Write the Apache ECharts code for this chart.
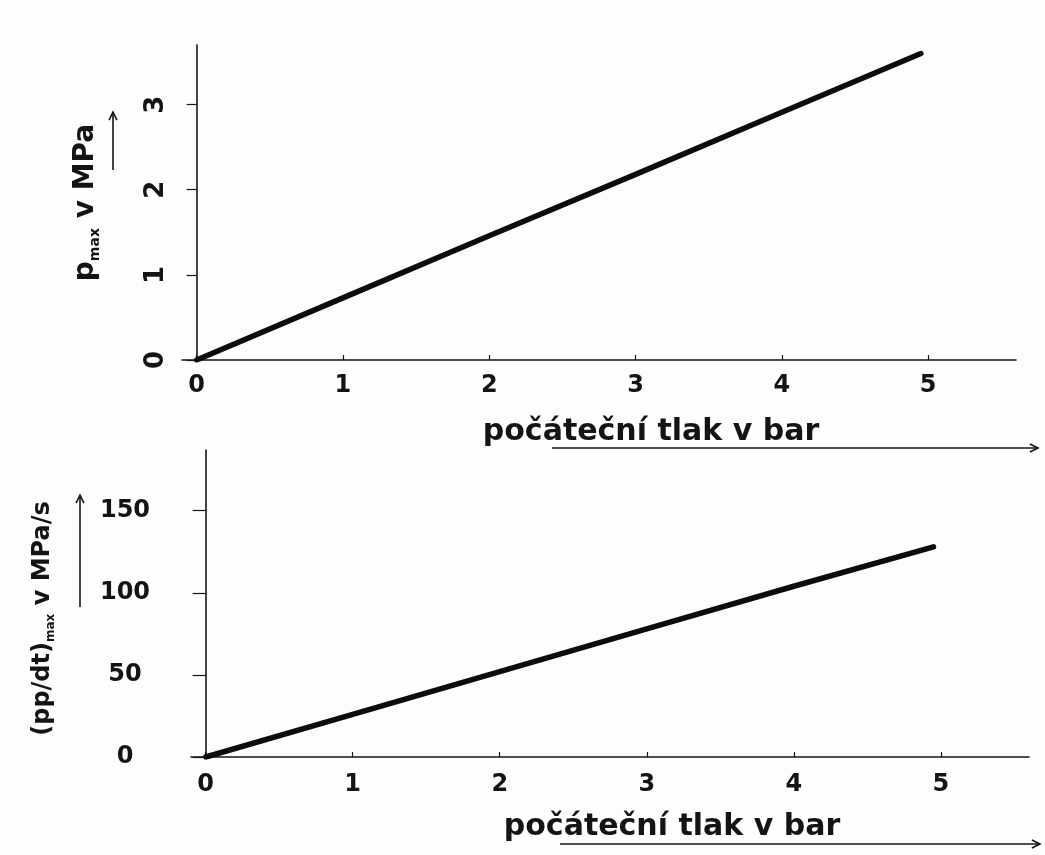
<!DOCTYPE html>
<html>
<head>
<meta charset="utf-8">
<script src="https://cdn.jsdelivr.net/npm/echarts@6/dist/echarts.min.js"></script>
<style>
html,body{margin:0;padding:0;background:#fdfdfc;}
#c{width:1045px;height:855px;}
</style>
</head>
<body>
<div id="c"></div>
<script>
// ---- data ----
const xTickValues = [0, 1, 2, 3, 4, 5];
const pTickValues = [0, 1, 2, 3];
const rTickValues = [0, 50, 100, 150];
const startPressure = [0, 1, 2, 3, 4, 4.95];          // bar
const pMax = [0, 0.73, 1.46, 2.18, 2.91, 3.6];          // MPa
const dpdtMax = [0, 26, 52, 78, 104, 128];              // MPa/s
const xTitle = 'počáteční tlak v bar';

const FONT = 'DejaVu Sans';
const INK = '#141414';

const chart = echarts.init(document.getElementById('c'), null, {renderer: 'canvas'});

function xAxisCfg(i, margin) {
  return {
    type: 'value', gridIndex: i, min: -0.1, max: 5.6,
    axisLine: {onZero: false, lineStyle: {color: INK, width: 1.6}},
    axisTick: {inside: true, length: 5, customValues: xTickValues, lineStyle: {color: INK, width: 1.2}},
    axisLabel: {customValues: xTickValues, margin: margin, fontFamily: FONT, fontWeight: 'bold', fontSize: 24, color: INK},
    splitLine: {show: false}
  };
}

function arrow(x1, y1, x2, y2) {
  const ang = Math.atan2(y2 - y1, x2 - x1);
  const h = 9, w = 0.45;
  return [
    {type: 'line', shape: {x1, y1, x2, y2}, style: {stroke: INK, lineWidth: 1.6}},
    {type: 'polyline', shape: {points: [
      [x2 - h * Math.cos(ang - w), y2 - h * Math.sin(ang - w)],
      [x2, y2],
      [x2 - h * Math.cos(ang + w), y2 - h * Math.sin(ang + w)]
    ]}, style: {stroke: INK, lineWidth: 1.6, fill: null}}
  ];
}

const option = {
  backgroundColor: '#fdfdfc',
  animation: false,
  grid: [
    {left: 182, right: 29, top: 45, bottom: 495},
    {left: 191, right: 16, top: 450, bottom: 98}
  ],
  xAxis: [xAxisCfg(0, 14), xAxisCfg(1, 16)],
  yAxis: [
    {
      type: 'value', gridIndex: 0, min: 0, max: 3.7,
      axisLine: {show: true, onZero: true, lineStyle: {color: INK, width: 1.6}},
      axisTick: {show: true, length: 10, customValues: pTickValues, lineStyle: {color: INK, width: 1.2}},
      axisLabel: {customValues: pTickValues, rotate: 90, align: 'center', verticalAlign: 'middle',
        margin: 26, fontFamily: FONT, fontWeight: 'bold', fontSize: 26, color: INK},
      splitLine: {show: false},
      name: '{p|p}{s|max}{p| v MPa}',
      nameLocation: 'middle', nameRotate: 90, nameGap: 80,
      nameTextStyle: {color: INK, rich: {
        p: {fontFamily: FONT, fontWeight: 'bold', fontSize: 28, color: INK, lineHeight: 32},
        s: {fontFamily: FONT, fontWeight: 'bold', fontSize: 14, color: INK, verticalAlign: 'bottom', lineHeight: 14}
      }}
    },
    {
      type: 'value', gridIndex: 1, min: 0, max: 187,
      axisLine: {show: true, onZero: true, lineStyle: {color: INK, width: 1.6}},
      axisTick: {show: true, length: 13, customValues: rTickValues, lineStyle: {color: INK, width: 1.2}},
      axisLabel: {customValues: rTickValues, align: 'center', margin: 66,
        fontFamily: FONT, fontWeight: 'bold', fontSize: 24, color: INK},
      splitLine: {show: false},
      name: '{p|(pp/dt)}{s|max}{p| v MPa/s}',
      nameLocation: 'middle', nameRotate: 90, nameGap: 134,
      nameTextStyle: {color: INK, padding: [0, 30, 0, 0], rich: {
        p: {fontFamily: FONT, fontWeight: 'bold', fontSize: 24, color: INK, lineHeight: 28},
        s: {fontFamily: FONT, fontWeight: 'bold', fontSize: 12, color: INK, verticalAlign: 'bottom', lineHeight: 12}
      }}
    }
  ],
  series: [
    {
      type: 'line', xAxisIndex: 0, yAxisIndex: 0, symbol: 'none',
      data: startPressure.map((x, i) => [x, pMax[i]]),
      lineStyle: {color: '#0c0c0c', width: 5.5, cap: 'round'}
    },
    {
      type: 'line', xAxisIndex: 1, yAxisIndex: 1, symbol: 'none',
      data: startPressure.map((x, i) => [x, dpdtMax[i]]),
      lineStyle: {color: '#0c0c0c', width: 5.5, cap: 'round'}
    }
  ],
  graphic: [
    {type: 'text', x: 651, y: 432, style: {text: xTitle, align: 'center', verticalAlign: 'middle',
      font: 'bold 30px "DejaVu Sans"', fill: INK}},
    {type: 'text', x: 672, y: 827, style: {text: xTitle, align: 'center', verticalAlign: 'middle',
      font: 'bold 30px "DejaVu Sans"', fill: INK}},
    ...arrow(552, 448, 1038, 448),
    ...arrow(560, 844, 1040, 844),
    ...arrow(113, 170, 113, 112),
    ...arrow(80, 607, 80, 495)
  ]
};
chart.setOption(option);
</script>
</body>
</html>
